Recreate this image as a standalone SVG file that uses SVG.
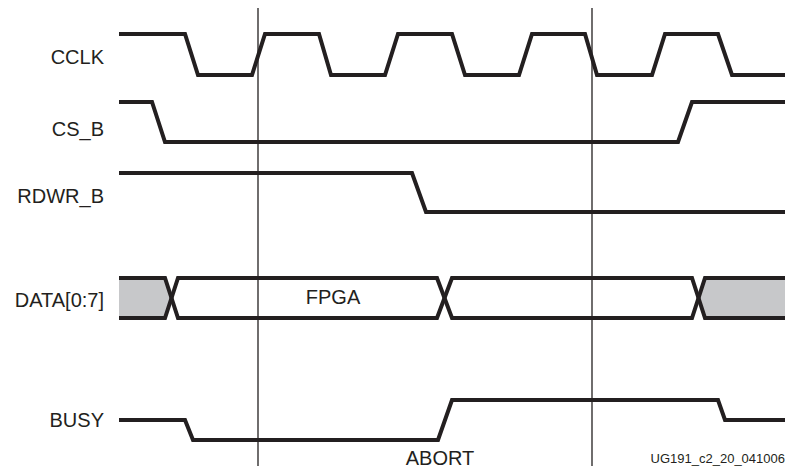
<svg xmlns="http://www.w3.org/2000/svg" width="790" height="469" viewBox="0 0 790 469">
<style>
.sig{fill:none;stroke:#231f20;stroke-width:4;stroke-linejoin:miter}
.grid{stroke:#231f20;stroke-width:1.3}
.lbl{font-family:"Liberation Sans",Arial,sans-serif;font-size:20px;fill:#231f20;text-anchor:end}
.mid{font-family:"Liberation Sans",Arial,sans-serif;font-size:20px;fill:#231f20;text-anchor:middle}
.small{font-family:"Liberation Sans",Arial,sans-serif;font-size:13px;fill:#231f20;text-anchor:end}
</style>
<rect width="790" height="469" fill="#fff"/>
<g id="labels">
<text class="lbl" x="104" y="64">CCLK</text>
<text class="lbl" x="104" y="136">CS_B</text>
<text class="lbl" x="104" y="203">RDWR_B</text>
<text class="lbl" x="104" y="307">DATA[0:7]</text>
<text class="lbl" x="104" y="427">BUSY</text>
</g>
<g id="connectors">
<line class="grid" x1="258" y1="8" x2="258" y2="466"/>
<line class="grid" x1="592" y1="8" x2="592" y2="466"/>
</g>
<g id="cclk">
<polyline class="sig" points="119,34 185,34 198,75 252,75 265,34 319,34 331,75 385,75 398,34 452,34 465,75 519,75 532,34 585,34 597,75 652,75 665,34 718,34 732,75 785,75"/>
</g>
<g id="cs_b">
<polyline class="sig" points="119,102 152,102 165,142 678,142 692,102 785,102"/>
</g>
<g id="rdwr_b">
<polyline class="sig" points="119,173 412,173 426,212 785,212"/>
</g>
<g id="data">
<polygon points="119,278 165,278 172,298 165,318 119,318" fill="#c7c8ca"/>
<polygon points="785,278 705,278 698,298 705,318 785,318" fill="#c7c8ca"/>
<polyline class="sig" points="119,278 165,278 178,318 437,318 452,278 692,278 705,318 785,318"/>
<polyline class="sig" points="119,318 165,318 178,278 437,278 452,318 692,318 705,278 785,278"/>
<text class="mid" x="333" y="304">FPGA</text>
</g>
<g id="busy">
<polyline class="sig" points="119,420 185,420 193,440 438,440 452,400 718,400 725,420 785,420"/>
</g>
<text class="mid" x="440" y="465">ABORT</text>
<text class="small" x="785" y="463">UG191_c2_20_041006</text>
</svg>
